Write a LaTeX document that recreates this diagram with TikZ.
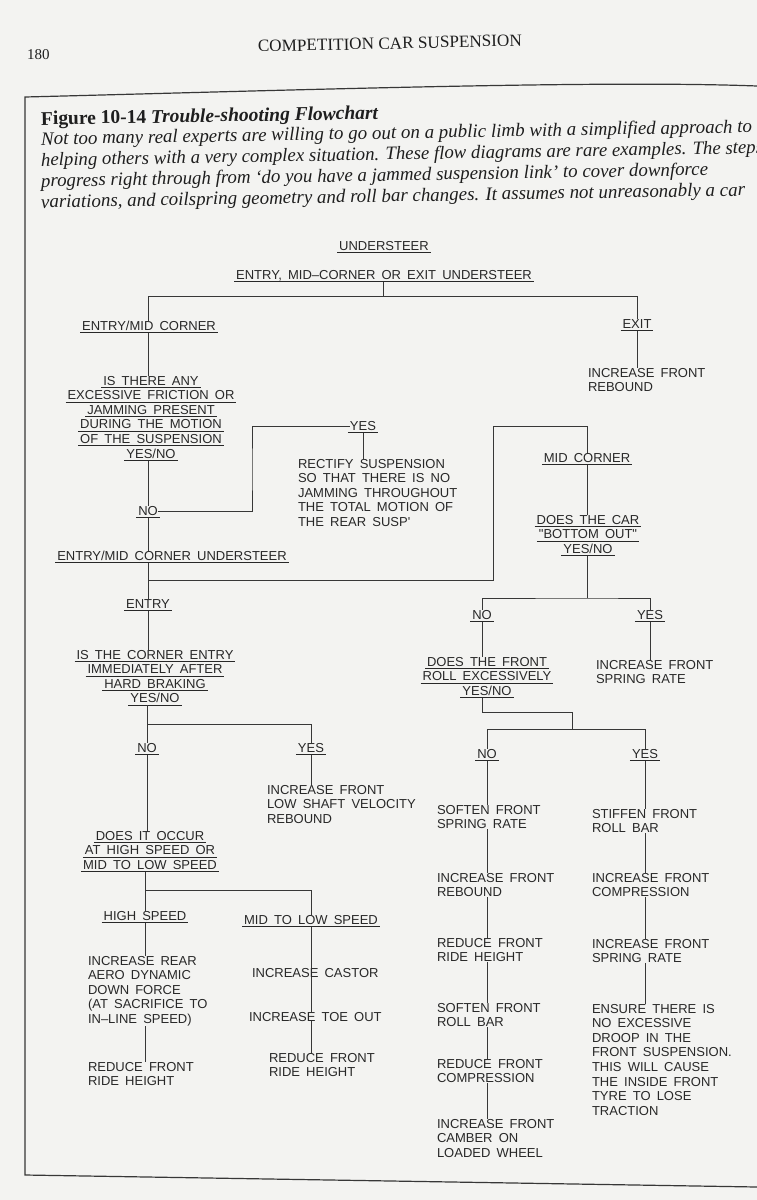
\documentclass[tikz,border=0pt]{standalone}
\usepackage{fontspec}
\usepackage{graphicx}
\setmainfont{Liberation Serif}
\newfontfamily\cadfont[WordSpace=1.7]{Liberation Sans}
\definecolor{paper}{RGB}{243,243,241}
\definecolor{ink}{RGB}{40,40,40}
\definecolor{lineink}{RGB}{55,55,55}
\definecolor{capink}{RGB}{30,30,30}
\newcommand\ulx[1]{\setbox0=\hbox{#1}\rlap{\kern-2pt\rule[-2.6pt]{\dimexpr\wd0+4pt\relax}{0.7pt}}\box0}
\begin{document}
\begin{tikzpicture}[x=1pt,y=-1pt,
  cad/.style={font=\cadfont\fontsize{13}{14.6}\selectfont, text=ink, inner sep=0pt, outer sep=0pt},
  act/.style={cad, align=left, anchor=north west},
  ask/.style={cad, align=center, anchor=north},
  lab/.style={cad, anchor=base},
  wire/.style={draw=lineink, line width=0.8pt},
  frame/.style={draw=lineink, line width=1.2pt},
  capline/.style={anchor=base west, inner sep=0pt, rotate=1, text=capink}]
\useasboundingbox (0,0) rectangle (757,1200);
\fill[paper] (0,0) rectangle (757,1200);
\clip (0,0) rectangle (757,1200);

% page header
\node[anchor=base west, inner sep=0pt, text=capink] (pg) at (27,59) {\fontsize{15}{18}\selectfont 180};
\node[anchor=base, inner sep=0pt, rotate=1.3, text=capink] (hdr) at (390,49) {\resizebox{264pt}{!}{\fontsize{17}{20}\selectfont COMPETITION CAR SUSPENSION}};

% frame
\draw[frame] (757,86) .. controls (600,80) and (300,90) .. (25,97) -- (25,1175) -- (757,1187);

% caption
\node[capline] (ttl) at (41,125) {\resizebox{337pt}{!}{\fontsize{19}{22}\selectfont\bfseries Figure 10-14 \itshape Trouble-shooting Flowchart}};
\node[capline] (cl1) at (41,145) {\resizebox{711pt}{!}{\fontsize{18}{22}\selectfont\itshape Not too many real experts are willing to go out on a public limb with a simplified approach to}};
\node[capline] (cl2) at (41,166) {\resizebox{722pt}{!}{\fontsize{18}{22}\selectfont\itshape helping others with a very complex situation. These flow diagrams are rare examples. The steps}};
\node[capline] (cl3) at (41,187) {\resizebox{667pt}{!}{\fontsize{18}{22}\selectfont\itshape progress right through from `do you have a jammed suspension link' to cover downforce}};
\node[capline] (cl4) at (41,208) {\resizebox{704pt}{!}{\fontsize{18}{22}\selectfont\itshape variations, and coilspring geometry and roll bar changes. It assumes not unreasonably a car}};

% top of chart
\node[lab] (us) at (384,250) {\ulx{UNDERSTEER}};
\node[lab] (emx) at (384,279) {\ulx{ENTRY, MID\textendash CORNER OR EXIT UNDERSTEER}};
\coordinate (jm) at (383,296);
\coordinate (jl) at (148,296);
\coordinate (jr) at (637,296);
\draw[wire] (emx.south -| jm) -- (jm);
\draw[wire] (jl) -- (jr);

\node[lab] (emc) at (149,330) {\ulx{ENTRY/MID CORNER}};
\node[lab] (exit) at (637,328) {\ulx{EXIT}};
\node[act] (incfr) at (588,368) {INCREASE FRONT\\REBOUND};
\draw[wire] (jl) -- (jl |- emc.north);
\draw[wire] (jr) -- (exit.north);
\draw[wire] (exit.south) -- (exit.south |- incfr.north);

\node[ask] (q1) at (151,376) {\ulx{IS THERE ANY}\\\ulx{EXCESSIVE FRICTION OR}\\\ulx{JAMMING PRESENT}\\\ulx{DURING THE MOTION}\\\ulx{OF THE SUSPENSION}\\\ulx{YES/NO}};
\draw[wire] (emc.south -| jl) -- (q1.north -| jl);
\node[lab] (no1) at (148,515) {\ulx{NO}};
\draw[wire] (q1.south -| no1) -- (no1.north);
\node[lab] (yes1) at (363,430) {\ulx{YES}};
\coordinate (c1) at (252,470);
\draw[wire] (no1.east) -| (c1) |- (yes1.west);
\node[act] (rect) at (298,459) {RECTIFY SUSPENSION\\SO THAT THERE IS NO\\JAMMING THROUGHOUT\\THE TOTAL MOTION OF\\THE REAR SUSP\textquotesingle};
\draw[wire] (yes1.south) -- (yes1.south |- rect.north);

\node[lab] (emcu) at (172,560) {\ulx{ENTRY/MID CORNER UNDERSTEER}};
\draw[wire] (no1.south) -- (no1.south |- emcu.north);
\coordinate (j1) at (148,580);
\node[lab] (entry) at (148,608) {\ulx{ENTRY}};
\draw[wire] (emcu.south -| j1) -- (entry.north);

% mid corner branch
\coordinate (c2) at (493,426);
\node[lab] (midc) at (587,462) {\ulx{MID CORNER}};
\draw[wire] (j1) -| (c2) -| (midc.north);
\node[ask] (q2) at (588,515) {\ulx{DOES THE CAR}\\\ulx{"BOTTOM OUT"}\\\ulx{YES/NO}};
\draw[wire] (midc.south) -- (midc.south |- q2.north);
\coordinate (j2) at (587,598);
\draw[wire] (q2.south -| j2) -- (j2);
\node[lab] (nob) at (482,619) {\ulx{NO}};
\node[lab] (yesb) at (650,619) {\ulx{YES}};
\draw[wire] (nob.north) |- (j2) -| (yesb.north);
\node[act] (incsr) at (596,660) {INCREASE FRONT\\SPRING RATE};
\draw[wire] (yesb.south) -- (yesb.south |- incsr.north);
\node[ask] (q3) at (487,657) {\ulx{DOES THE FRONT}\\\ulx{ROLL EXCESSIVELY}\\\ulx{YES/NO}};
\draw[wire] (nob.south) -- (nob.south |- q3.north);
\coordinate (c4) at (572,712);
\coordinate (j3) at (572,729);
\draw[wire] (q3.south -| nob) |- (c4) -- (j3);
\node[lab] (nor) at (487,758) {\ulx{NO}};
\node[lab] (yesr) at (645,758) {\ulx{YES}};
\draw[wire] (nor.north) |- (j3) -| (yesr.north);

% roll NO column
\node[act] (sfsr) at (437,805) {SOFTEN FRONT\\SPRING RATE};
\node[act] (ifrb) at (437,873) {INCREASE FRONT\\REBOUND};
\node[act] (rfrh) at (437,938) {REDUCE FRONT\\RIDE HEIGHT};
\node[act] (sfrb) at (437,1003) {SOFTEN FRONT\\ROLL BAR};
\node[act] (rfcp) at (437,1059) {REDUCE FRONT\\COMPRESSION};
\node[act] (ifcm) at (437,1119) {INCREASE FRONT\\CAMBER ON\\LOADED WHEEL};
\draw[wire] (nor.south) -- (nor.south |- sfsr.north);
\draw[wire] (sfsr.south -| nor) -- (ifrb.north -| nor);
\draw[wire] (ifrb.south -| nor) -- (rfrh.north -| nor);
\draw[wire] (rfrh.south -| nor) -- (sfrb.north -| nor);
\draw[wire] (sfrb.south -| nor) -- (rfcp.north -| nor);
\draw[wire] (rfcp.south -| nor) -- (ifcm.north -| nor);

% roll YES column
\node[act] (stfb) at (592,809) {STIFFEN FRONT\\ROLL BAR};
\node[act] (ifcp) at (592,873) {INCREASE FRONT\\COMPRESSION};
\node[act] (ifsr) at (592,939) {INCREASE FRONT\\SPRING RATE};
\node[act] (ensr) at (592,1004) {ENSURE THERE IS\\NO EXCESSIVE\\DROOP IN THE\\FRONT SUSPENSION.\\THIS WILL CAUSE\\THE INSIDE FRONT\\TYRE TO LOSE\\TRACTION};
\draw[wire] (yesr.south) -- (yesr.south |- stfb.north);
\draw[wire] (stfb.south -| yesr) -- (ifcp.north -| yesr);
\draw[wire] (ifcp.south -| yesr) -- (ifsr.north -| yesr);
\draw[wire] (ifsr.south -| yesr) -- (ensr.north -| yesr);

% entry branch
\node[ask] (q4) at (155,650) {\ulx{IS THE CORNER ENTRY}\\\ulx{IMMEDIATELY AFTER}\\\ulx{HARD BRAKING}\\\ulx{YES/NO}};
\draw[wire] (entry.south) -- (entry.south |- q4.north);
\coordinate (j4) at (147,724);
\node[lab] (noe) at (147,752) {\ulx{NO}};
\node[lab] (yese) at (311,752) {\ulx{YES}};
\draw[wire] (q4.south -| noe) -- (noe.north);
\draw[wire] (j4) -| (yese.north);
\node[act] (iflv) at (267,785) {INCREASE FRONT\\LOW SHAFT VELOCITY\\REBOUND};
\draw[wire] (yese.south) -- (yese.south |- iflv.north);
\node[ask] (q5) at (150,831) {\ulx{DOES IT OCCUR}\\\ulx{AT HIGH SPEED OR}\\\ulx{MID TO LOW SPEED}};
\draw[wire] (noe.south) -- (noe.south |- q5.north);
\coordinate (j5) at (145,890);
\node[lab] (hs) at (145,920) {\ulx{HIGH SPEED}};
\node[lab] (mls) at (311,924) {\ulx{MID TO LOW SPEED}};
\draw[wire] (q5.south -| hs) -- (hs.north);
\draw[wire] (j5) -| (mls.north);

\node[act] (irad) at (88,956) {INCREASE REAR\\AERO DYNAMIC\\DOWN FORCE\\(AT SACRIFICE TO\\IN\textendash LINE SPEED)};
\node[act] (rfrh2) at (88,1062) {REDUCE FRONT\\RIDE HEIGHT};
\draw[wire] (hs.south) -- (hs.south |- irad.north);
\draw[wire] (irad.south -| hs) -- (rfrh2.north -| hs);

\node[act] (icas) at (252,968) {INCREASE CASTOR};
\node[act] (itoe) at (249,1012) {INCREASE TOE OUT};
\node[act] (rfrh3) at (269,1053) {REDUCE FRONT\\RIDE HEIGHT};
\draw[wire] (mls.south) -- (mls.south |- icas.north);
\draw[wire] (icas.south -| mls) -- (itoe.north -| mls);
\draw[wire] (itoe.south -| mls) -- (rfrh3.north -| mls);
\end{tikzpicture}
\end{document}
